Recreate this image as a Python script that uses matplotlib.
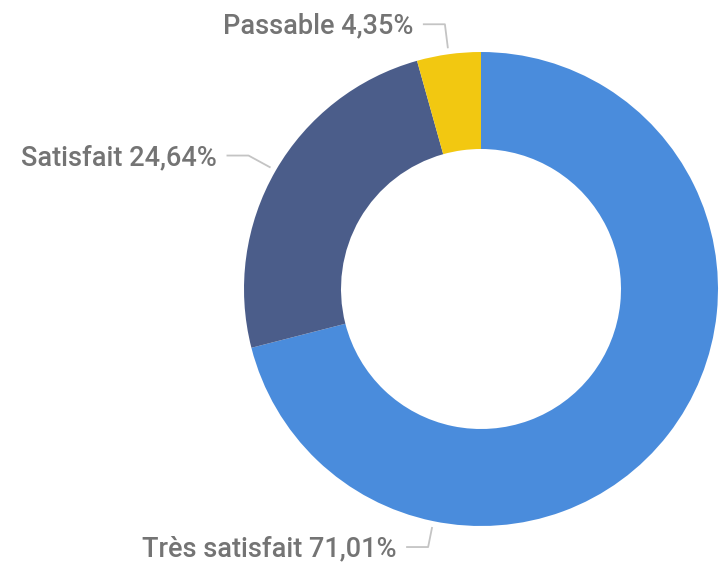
import numpy as np
import matplotlib.pyplot as plt

labels = ["Très satisfait", "Satisfait", "Passable"]
values = [71.01, 24.64, 4.35]
colors = ["#4A8CDC", "#4B5D8A", "#F2C811"]
value_text = ["71,01%", "24,64%", "4,35%"]

# figure in pixel units: 720x563
W, H = 720, 563
cx, cy = 481, H - 289
R = 237
HOLE = 140

fig = plt.figure(figsize=(7.2, 5.63), dpi=100)
ax = fig.add_axes([0, 0, 1, 1])
ax.set_xlim(0, W)
ax.set_ylim(0, H)
ax.set_aspect("equal")
ax.axis("off")

wedges, _ = ax.pie(values, colors=colors, startangle=90, counterclock=False,
                   center=(cx, cy), radius=R,
                   wedgeprops=dict(width=R - HOLE, linewidth=0))
ax.set_xlim(0, W)
ax.set_ylim(0, H)

# leader lines: anchor just outside ring, elbow, then horizontal to label
# (angle override for the big slice, power bi puts it lower-left)
anchor_angle = {0: -101.6}
elbow_dy = {0: -20, 1: 12, 2: 24}
elbow_dx = {0: -4, 1: -22, 2: -3}
LINE_LEN = 22

for i, w in enumerate(wedges):
    ang = anchor_angle.get(i, (w.theta1 + w.theta2) / 2)
    a = np.deg2rad(ang)
    ax0 = cx + (R + 6) * np.cos(a)
    ay0 = cy + (R + 6) * np.sin(a)
    ex, ey = ax0 + elbow_dx[i], ay0 + elbow_dy[i]
    ax.plot([ax0, ex, ex - LINE_LEN], [ay0, ey, ey], color="#C4C4C4", lw=1.3,
            solid_capstyle="butt")
    ax.text(ex - LINE_LEN - 10, ey + 1, f"{labels[i]} {value_text[i]}",
            ha="right", va="center_baseline", fontsize=19.5, color="#747474",
            family="Roboto", fontweight="medium")

fig.savefig("out.png", dpi=100)
